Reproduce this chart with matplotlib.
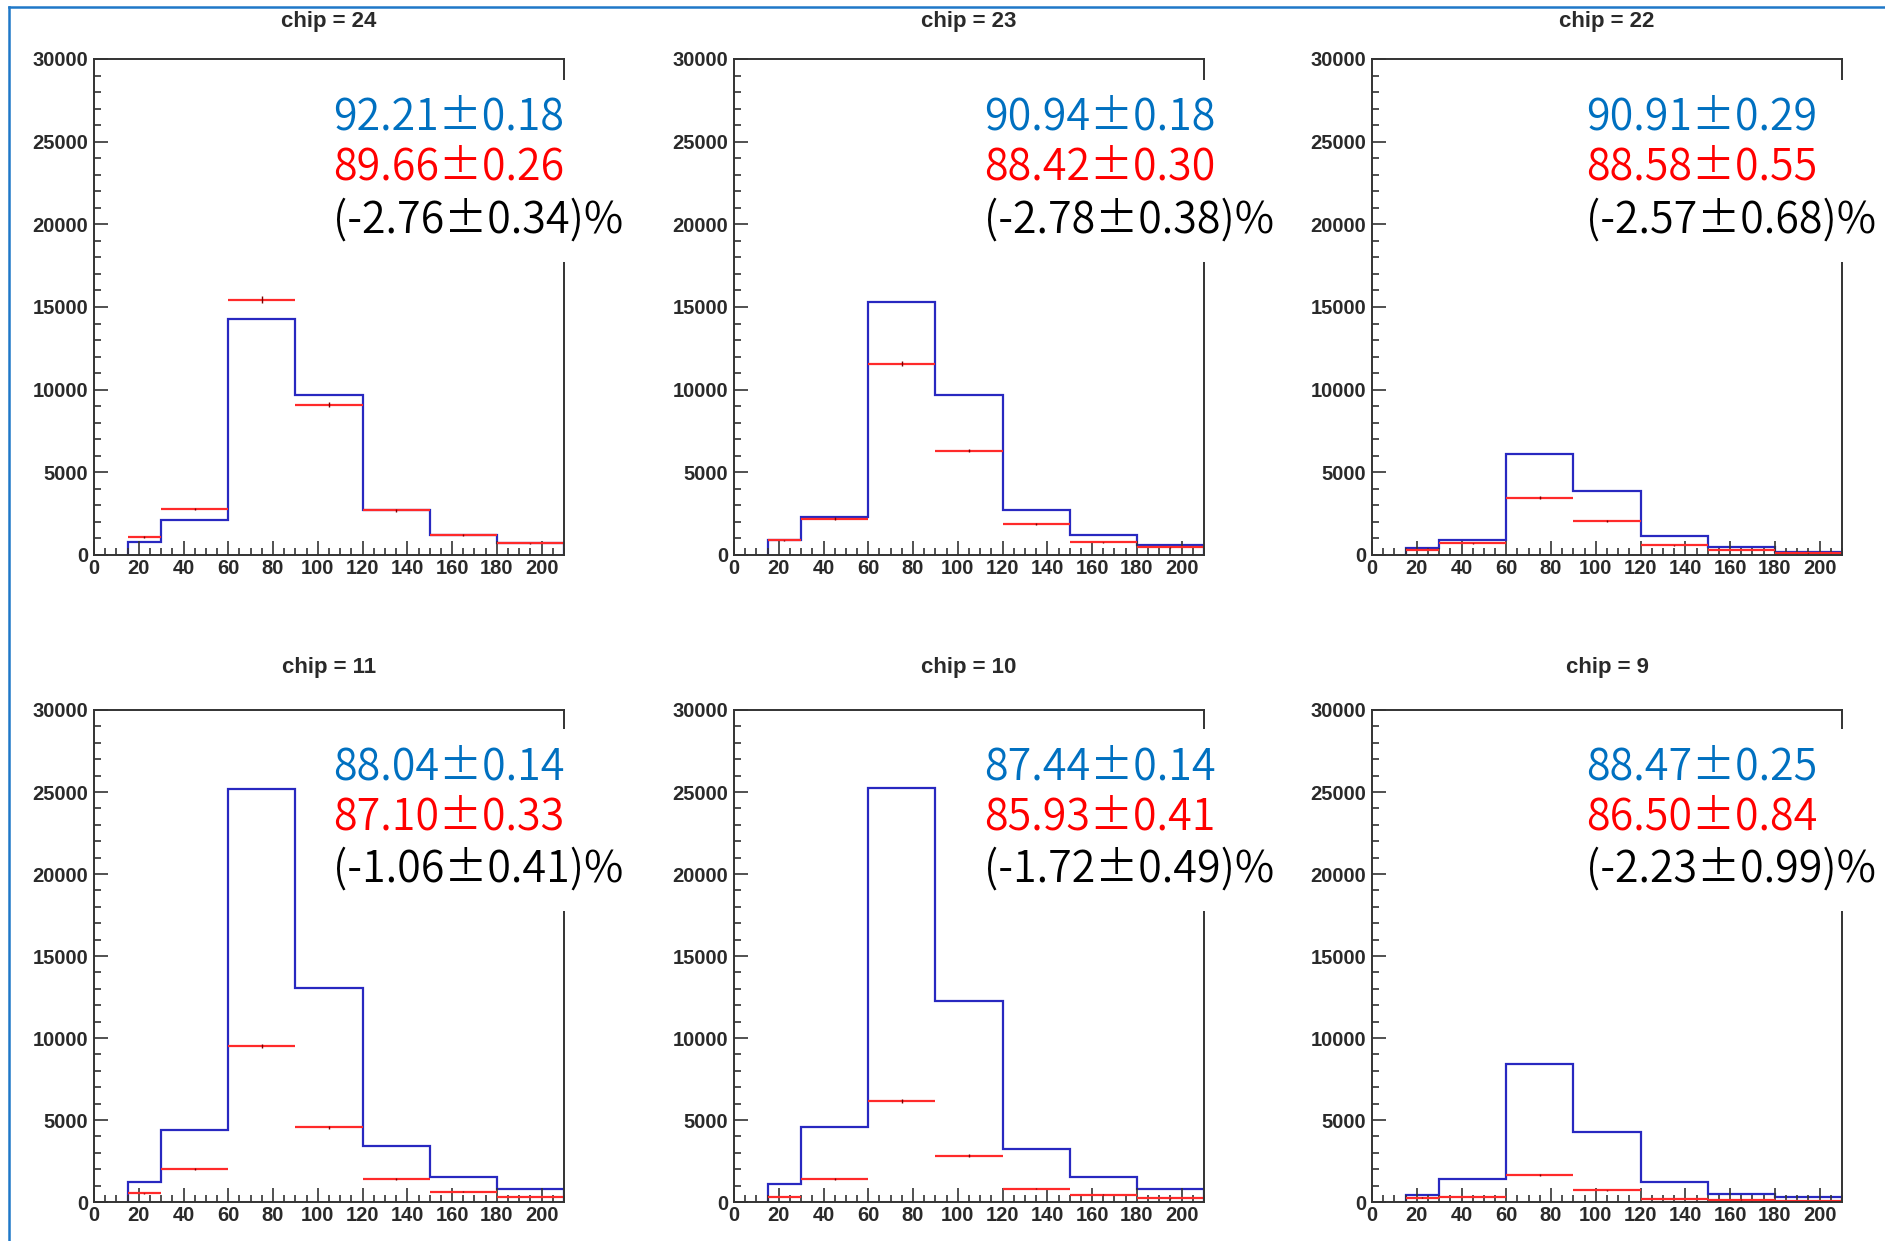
import matplotlib
matplotlib.use("Agg")
import numpy as np
from matplotlib import pyplot as plt
from matplotlib.lines import Line2D
from matplotlib.patches import Rectangle
from matplotlib.ticker import MultipleLocator

# bin edges shared by all histograms
edges = [15, 30, 60, 90, 120, 150, 180, 210]

chips = ['24', '23', '22', '11', '10', '9']

# blue = before, red = after (counts per bin)
blue_24 = [800, 2130, 14250, 9680, 2710, 1200, 700]
red_24 = [1090, 2780, 15450, 9080, 2710, 1200, 700]
blue_23 = [880, 2320, 15330, 9680, 2710, 1200, 580]
red_23 = [880, 2200, 11580, 6320, 1900, 760, 460]
blue_22 = [410, 920, 6120, 3880, 1120, 510, 200]
red_22 = [300, 710, 3450, 2040, 590, 300, 100]
blue_11 = [1230, 4360, 25170, 13040, 3430, 1530, 810]
red_11 = [530, 2000, 9510, 4550, 1415, 630, 300]
blue_10 = [1110, 4550, 25240, 12250, 3250, 1530, 810]
red_10 = [300, 1415, 6170, 2830, 810, 440, 230]
blue_9 = [440, 1415, 8400, 4250, 1230, 510, 300]
red_9 = [255, 300, 1620, 720, 185, 140, 70]

# small vertical error bars on the red points
err_24 = [50, 80, 190, 150, 80, 55, 40]
err_23 = [45, 70, 160, 120, 65, 40, 30]
err_22 = [25, 40, 90, 70, 35, 25, 15]
err_11 = [35, 70, 150, 100, 60, 40, 25]
err_10 = [25, 55, 120, 80, 45, 30, 20]
err_9 = [25, 25, 60, 40, 20, 15, 10]

blue_txt = ['92.21±0.18', '90.94±0.18', '90.91±0.29',
            '88.04±0.14', '87.44±0.14', '88.47±0.25']
red_txt = ['89.66±0.26', '88.42±0.30', '88.58±0.55',
           '87.10±0.33', '85.93±0.41', '86.50±0.84']
diff_txt = ['(-2.76±0.34)%', '(-2.78±0.38)%', '(-2.57±0.68)%',
            '(-1.06±0.41)%', '(-1.72±0.49)%', '(-2.23±0.99)%']

blues = [blue_24, blue_23, blue_22, blue_11, blue_10, blue_9]
reds = [red_24, red_23, red_22, red_11, red_10, red_9]
errs = [err_24, err_23, err_22, err_11, err_10, err_9]

W, H = 1885, 1241
fig = plt.figure(figsize=(W / 100, H / 100), dpi=100)
fig.patch.set_facecolor('white')

# layout in pixels
col_left = [94, 734, 1372]
ax_w = 470
row_top = [59, 710]
ax_h = [496, 492]
title_y = [21, 667]
txt_x = [333, 984, 1586]

centers = [(edges[i] + edges[i + 1]) / 2 for i in range(len(edges) - 1)]

for k in range(6):
    r, c = k // 3, k % 3
    left = col_left[c]
    top = row_top[r]
    ax = fig.add_axes([left / W, 1 - (top + ax_h[r]) / H, ax_w / W, ax_h[r] / H])

    ax.stairs(blues[k], edges, color='#2828c0', lw=1.6, baseline=0)
    ax.hlines(reds[k], edges[:-1], edges[1:], color='#ff2a2a', lw=1.6)
    ax.errorbar(centers, reds[k], yerr=errs[k], fmt='none',
                ecolor='#7a0000', elinewidth=1.0)

    ax.set_xlim(0, 210)
    ax.set_ylim(0, 30000)
    ax.xaxis.set_major_locator(MultipleLocator(20))
    ax.xaxis.set_minor_locator(MultipleLocator(5))
    ax.yaxis.set_major_locator(MultipleLocator(5000))
    ax.yaxis.set_minor_locator(MultipleLocator(1000))
    ax.set_xticks([0, 20, 40, 60, 80, 100, 120, 140, 160, 180, 200])
    ax.tick_params(which='both', direction='in', top=False, right=False,
                   color='#333333', width=1.2, labelsize=14.5,
                   labelcolor='#2a2a2a')
    ax.tick_params(which='major', length=10)
    ax.tick_params(which='minor', length=5)
    ax.tick_params(axis='x', pad=3)
    ax.tick_params(axis='y', pad=4)
    for tl in ax.get_xticklabels() + ax.get_yticklabels():
        tl.set_family('Liberation Sans')
        tl.set_fontweight('bold')
    for s in ax.spines.values():
        s.set_color('#333333')
        s.set_linewidth(1.4)

    fig.text((left + ax_w / 2) / W, 1 - title_y[r] / H, 'chip = ' + chips[k],
             ha='center', va='center', fontsize=16, family='Liberation Sans',
             fontweight='bold', color='#2a2a2a')

    # white text box over the right frame
    dy = 0 if r == 0 else 649
    tx = txt_x[c]
    fig.add_artist(Rectangle(((tx - 8) / W, 1 - (262 + dy) / H), 310 / W, 182 / H,
                             transform=fig.transFigure, facecolor='white',
                             edgecolor='none', zorder=5))
    fam = ['Noto Sans CJK JP', 'DejaVu Sans']
    fig.text(tx / W, 1 - (130 + dy) / H, blue_txt[k], color='#0070C0',
             fontsize=31, family=fam, fontweight=350, va='baseline', zorder=6)
    fig.text(tx / W, 1 - (180 + dy) / H, red_txt[k], color='#FF0000',
             fontsize=31, family=fam, fontweight=350, va='baseline', zorder=6)
    fig.text(tx / W, 1 - (233 + dy) / H, diff_txt[k], color='black',
             fontsize=31, family=fam, fontweight=350, va='baseline', zorder=6)

# blue frame round the slide area
fig.add_artist(Line2D([9 / W, 9 / W], [0, 1 - 7 / H], color='#1f78c8', lw=1.8,
                      transform=fig.transFigure))
fig.add_artist(Line2D([9 / W, 1], [1 - 7 / H, 1 - 7 / H], color='#1f78c8', lw=1.8,
                      transform=fig.transFigure))

fig.savefig('out.png', dpi=100)
